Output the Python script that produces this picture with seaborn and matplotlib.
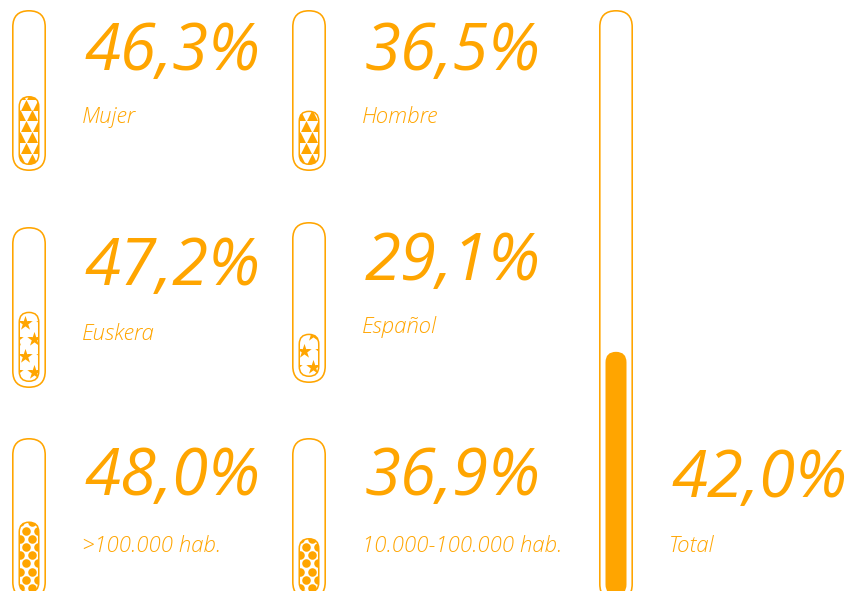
import numpy as np
import matplotlib.pyplot as plt
import seaborn as sns
from matplotlib.patches import FancyBboxPatch

sns.set_theme(style="white")
plt.rcParams["font.family"] = ["Open Sans", "DejaVu Sans"]

ORANGE = "#FFA500"
W, H = 853, 591

groups = ["Mujer", "Hombre", "Euskera", "Español", ">100.000 hab.", "10.000-100.000 hab.", "Total"]
values = [46.3, 36.5, 47.2, 29.1, 48.0, 36.9, 42.0]
patterns = ["triangle", "triangle", "star", "star", "circle", "circle", None]

# capsule layout in pixels: left, top, height
capsules = [(12, 10, 161), (292, 10, 161), (12, 227, 161), (292, 222, 161),
            (12, 438, 161), (292, 438, 161), (599, 10, 591)]
# text layout in pixels: x, value baseline, label baseline
text_pos = [(85, 70, 123), (365, 70, 123), (85, 285, 340), (365, 280, 333),
            (85, 495, 552), (365, 495, 552), (672, 497, 552)]

# marker, size (pt^2), horizontal period px, row spacing px
pattern_style = {
    "triangle": ("^", 62, 12, 10.8),
    "star": ("*", 120, 18, 16.5),
    "circle": ("o", 38, 12, 8.2),
}

CAP_W, BAR_W, GAP = 34, 21, 6

fig = plt.figure(figsize=(W / 100, H / 100), dpi=100)
fig.patch.set_facecolor("white")


def px_axes(left, top, w, h):
    return fig.add_axes([left / W, 1 - (top + h) / H, w / W, h / H])


def rounded(ax, x0, y0, w, h, r_px, xpp, ypp, **kw):
    p = FancyBboxPatch((x0, y0), w, h,
                       boxstyle=f"round,pad=0,rounding_size={r_px * xpp}",
                       mutation_aspect=ypp / xpp, clip_on=False, **kw)
    ax.add_patch(p)
    return p


for label, value, pat, (left, top, height), (tx, vy, ly) in zip(
        groups, values, patterns, capsules, text_pos):
    ax = px_axes(left, top, CAP_W, height)
    ax.set_facecolor("none")
    sns.barplot(x=[label], y=[value], color=ORANGE, saturation=1, width=1, ax=ax)
    xpp = 1 / BAR_W
    ypp = 100 / (height - 2 * GAP)
    ax.set_xlim(-CAP_W / 2 * xpp, CAP_W / 2 * xpp)
    ax.set_ylim(-GAP * ypp, 100 + GAP * ypp)
    ax.axis("off")

    bar = ax.patches[0]
    bx, by, bw, bh = bar.get_x(), bar.get_y(), bar.get_width(), bar.get_height()
    bar.set_visible(False)

    # outer capsule
    lw = 1.6
    ox = (CAP_W / 2 - lw / 2) * xpp
    oy = (GAP - lw / 2) * ypp
    rounded(ax, -ox, -oy, 2 * ox, 100 + 2 * oy, CAP_W / 2 - lw / 2, xpp, ypp,
            facecolor="none", edgecolor=ORANGE, linewidth=lw * 0.72)

    if pat is None:
        rounded(ax, bx, by, bw, bh, BAR_W / 2, xpp, ypp,
                facecolor=ORANGE, edgecolor="none")
    else:
        inset = 0.75
        fill = rounded(ax, bx + inset * xpp, by + inset * ypp,
                       bw - 2 * inset * xpp, bh - 2 * inset * ypp,
                       BAR_W / 2 - inset, xpp, ypp,
                       facecolor="white", edgecolor=ORANGE, linewidth=1.1)
        marker, size, period, row = pattern_style[pat]
        n_rows = int(bh / ypp / row) + 2
        pts_x, pts_y = [], []
        for i in range(n_rows):
            shift = period / 4 if i % 2 == 0 else -period / 4
            for k in range(-2, 3):
                pts_x.append((shift + k * period) * xpp)
                pts_y.append(by + (row * 0.6 + i * row) * ypp)
        sc = ax.scatter(pts_x, pts_y, marker=marker, s=size, color=ORANGE,
                        linewidths=0, zorder=3)
        sc.set_clip_path(fill)

    txt = f"{value:.1f}".replace(".", ",") + "%"
    fig.text(tx / W, 1 - vy / H, txt, color=ORANGE, fontsize=47,
             fontstyle="italic", va="baseline", ha="left")
    fig.text((tx - 3) / W, 1 - ly / H, label, color=ORANGE, fontsize=16,
             fontstyle="italic", fontweight="light", va="baseline", ha="left")

fig.savefig("out.png", dpi=100, facecolor="white")
